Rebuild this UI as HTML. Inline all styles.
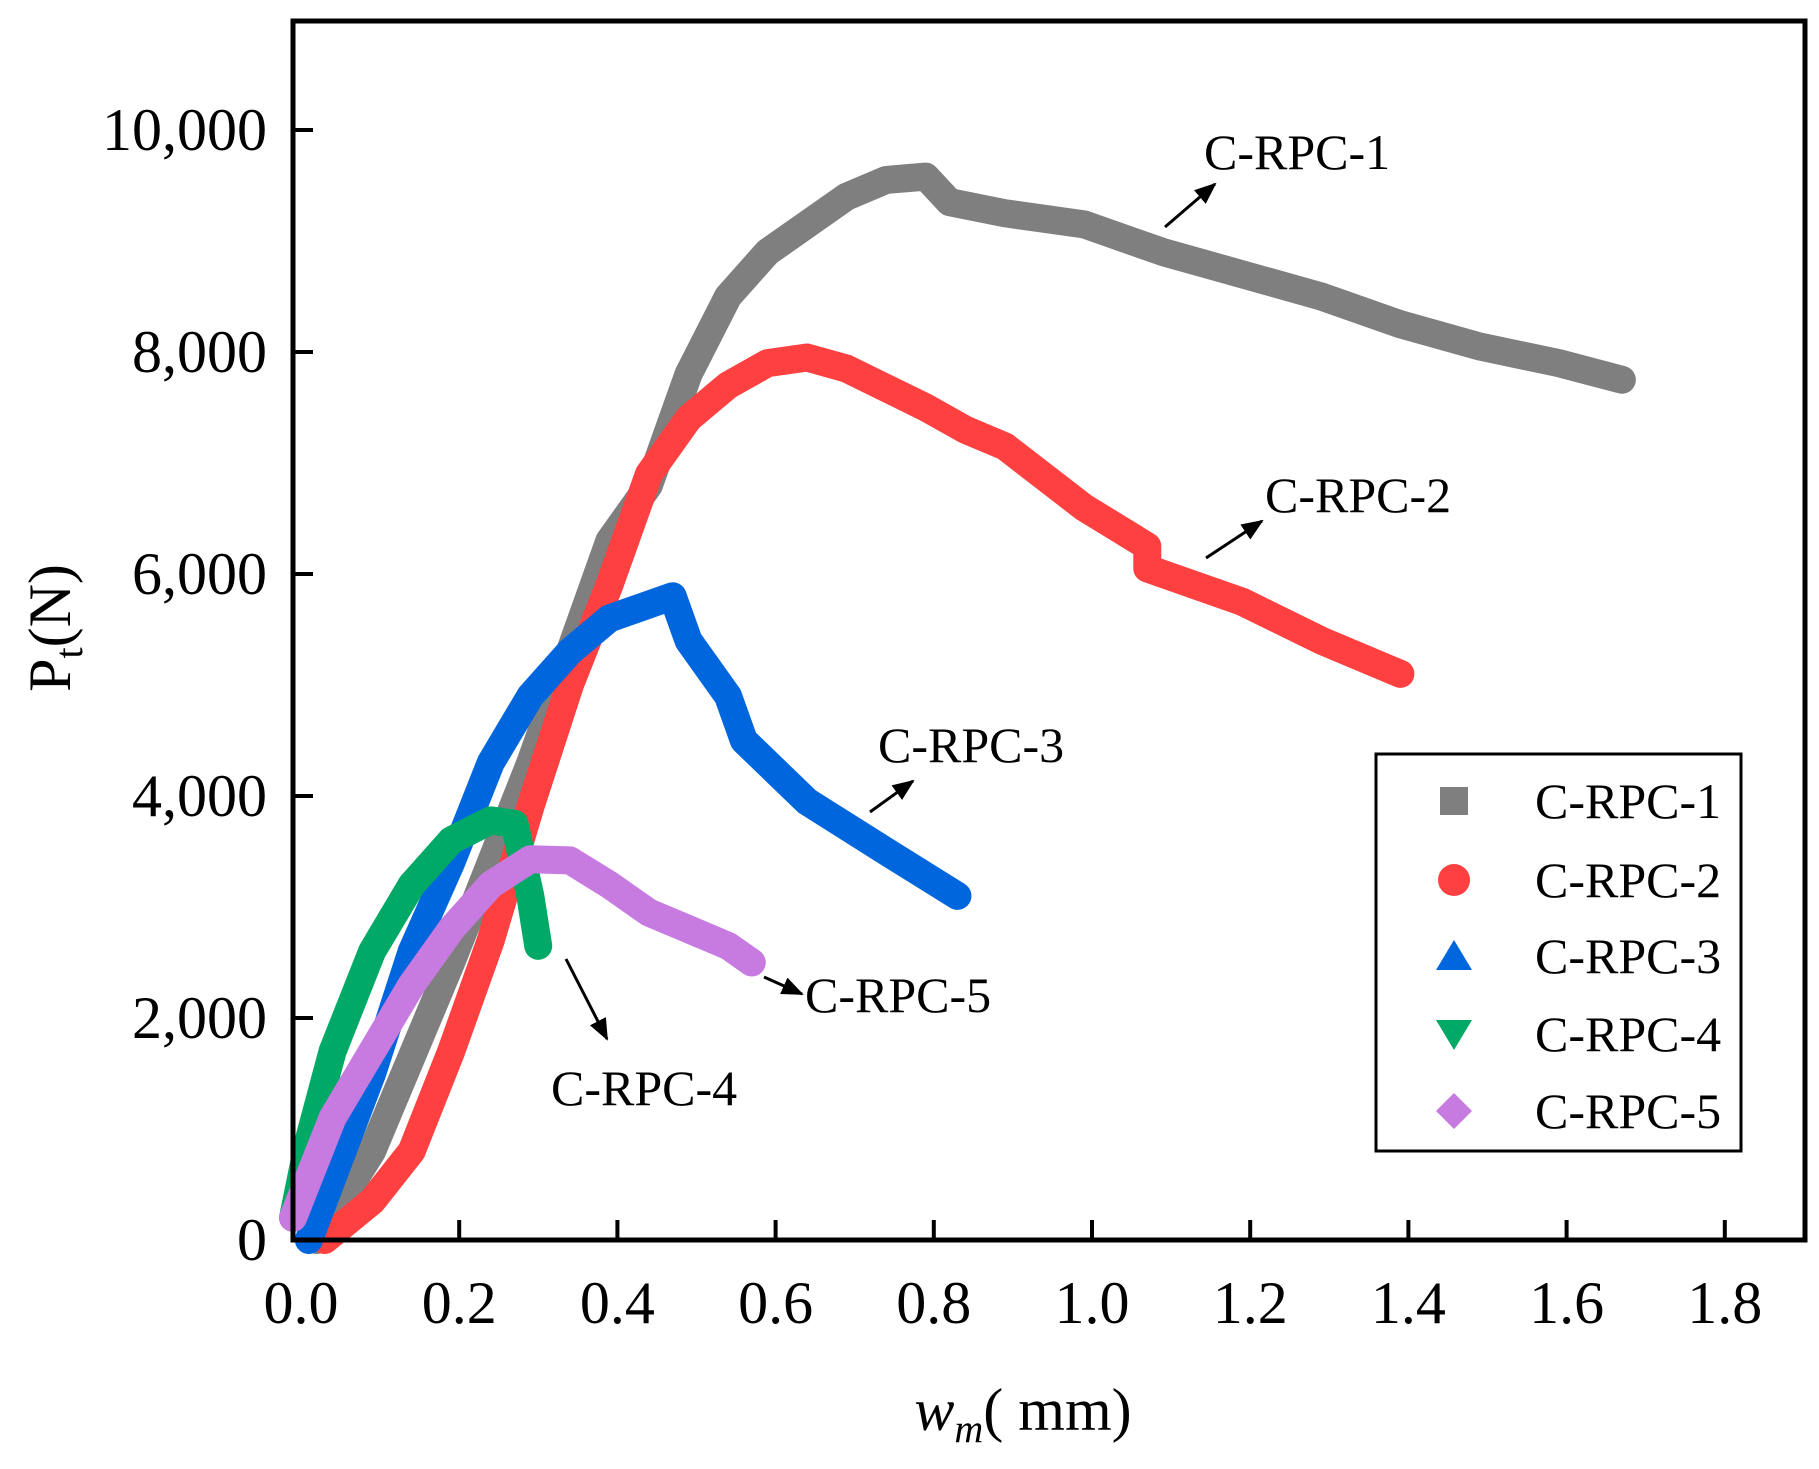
<!DOCTYPE html>
<html><head><style>body{margin:0;background:#fff}svg{display:block}</style></head>
<body>
<svg width="1819" height="1469" viewBox="0 0 1819 1469" xmlns="http://www.w3.org/2000/svg" font-family="Liberation Serif, serif">
<defs>
<marker id="ah2" markerWidth="22" markerHeight="18" refX="20" refY="9" orient="auto" markerUnits="userSpaceOnUse"><path d="M0,0 L22,9 L0,18 z" fill="#000"/></marker></defs>
<g id="curves" fill="none" stroke-width="28" stroke-linejoin="round" stroke-linecap="round"></g>
<rect x="293" y="21" width="1512" height="1219" fill="none" stroke="#000" stroke-width="5"/>
<g stroke="#000" stroke-width="4" id="ticks"></g>
<g font-size="60" fill="#000" id="labels"></g>
<text x="1023" y="1430" font-size="60" text-anchor="middle"><tspan font-style="italic">w</tspan><tspan font-style="italic" font-size="40" dy="12">m</tspan><tspan dy="-12">( mm)</tspan></text>
<text transform="translate(70,628) rotate(-90)" font-size="60" text-anchor="middle">P<tspan font-size="40" dy="12">t</tspan><tspan dy="-12">(N)</tspan></text>
<rect x="1376" y="754" width="365" height="397" fill="#fff" stroke="#000" stroke-width="3"/>
<g font-size="50">
<rect x="1440" y="787" width="28" height="28" fill="#7f7f7f"/><text x="1535" y="818">C-RPC-1</text>
<circle cx="1454" cy="880" r="16" fill="#ff4040"/><text x="1535" y="897">C-RPC-2</text>
<path d="M1454,940 L1472,970 L1436,970 z" fill="#0066dd"/><text x="1535" y="973">C-RPC-3</text>
<path d="M1436,1020 L1472,1020 L1454,1050 z" fill="#00aa66"/><text x="1535" y="1051">C-RPC-4</text>
<path d="M1454,1093 L1472,1111 L1454,1129 L1436,1111 z" fill="#c77ae0"/><text x="1535" y="1128">C-RPC-5</text>
<text x="1204" y="169">C-RPC-1</text>
<text x="1265" y="512">C-RPC-2</text>
<text x="878" y="762">C-RPC-3</text>
<text x="805" y="1012">C-RPC-5</text>
<text x="551" y="1105">C-RPC-4</text>
</g>
<g stroke="#000" stroke-width="3" marker-end="url(#ah2)">
<line x1="1165" y1="227" x2="1215" y2="184"/>
<line x1="1206" y1="558" x2="1262" y2="521"/>
<line x1="870" y1="812" x2="913" y2="781"/>
<line x1="764" y1="977" x2="802" y2="994"/>
<line x1="566" y1="959" x2="607" y2="1039"/>
</g>
<script>
const X=x=>301+x*791,XC=x=>293+x*791,Y=y=>1240-y*0.111;
const S={
"#7f7f7f":[[0.03,0],[0.1,800],[0.2,2500],[0.3,4300],[0.4,6300],[0.45,6800],[0.5,7800],[0.55,8500],[0.6,8900],[0.65,9150],[0.7,9400],[0.75,9550],[0.8,9580],[0.83,9350],[0.9,9250],[1.0,9150],[1.1,8900],[1.2,8700],[1.3,8500],[1.4,8250],[1.5,8050],[1.6,7900],[1.68,7750]],
"#ff4040":[[0.04,0],[0.1,350],[0.15,800],[0.2,1700],[0.25,2700],[0.3,3900],[0.35,5000],[0.4,5900],[0.45,6900],[0.5,7400],[0.55,7700],[0.6,7900],[0.65,7950],[0.7,7850],[0.8,7500],[0.85,7300],[0.9,7150],[1.0,6600],[1.08,6250],[1.08,6050],[1.2,5750],[1.3,5400],[1.4,5100]],
"#0066dd":[[0.02,0],[0.1,1500],[0.15,2600],[0.2,3400],[0.25,4300],[0.3,4900],[0.35,5300],[0.4,5600],[0.48,5800],[0.5,5400],[0.55,4900],[0.57,4500],[0.65,3950],[0.75,3500],[0.84,3100]],
"#00aa66":[[0,200],[0.02,900],[0.05,1700],[0.1,2600],[0.15,3200],[0.2,3600],[0.25,3780],[0.28,3750],[0.3,3100],[0.31,2650]],
"#c77ae0":[[0,200],[0.05,1100],[0.1,1700],[0.15,2300],[0.2,2800],[0.25,3200],[0.3,3430],[0.35,3420],[0.4,3200],[0.45,2950],[0.5,2800],[0.55,2650],[0.58,2500]]};
const ns="http://www.w3.org/2000/svg";let g=document.getElementById("curves");
for(const c in S){let p=document.createElementNS(ns,"polyline");p.setAttribute("points",S[c].map(d=>XC(d[0])+","+Y(d[1])).join(" "));p.setAttribute("stroke",c);g.appendChild(p);}
let t=document.getElementById("ticks"),l=document.getElementById("labels");
for(let i=1;i<=9;i++){let x=X(i*0.2);let e=document.createElementNS(ns,"line");e.setAttribute("x1",x);e.setAttribute("x2",x);e.setAttribute("y1",1240);e.setAttribute("y2",1220);t.appendChild(e);}
for(let i=0;i<=9;i++){let e=document.createElementNS(ns,"text");e.setAttribute("x",X(i*0.2));e.setAttribute("y",1323);e.setAttribute("text-anchor","middle");e.textContent=(i*0.2).toFixed(1);l.appendChild(e);}
const yl=["0","2,000","4,000","6,000","8,000","10,000"];
for(let i=0;i<6;i++){let y=Y(i*2000);if(i>0){let e=document.createElementNS(ns,"line");e.setAttribute("x1",293);e.setAttribute("x2",313);e.setAttribute("y1",y);e.setAttribute("y2",y);t.appendChild(e);}
let e=document.createElementNS(ns,"text");e.setAttribute("x",267);e.setAttribute("y",y+20);e.setAttribute("text-anchor","end");e.textContent=yl[i];l.appendChild(e);}
</script>
</svg>
</body></html>
